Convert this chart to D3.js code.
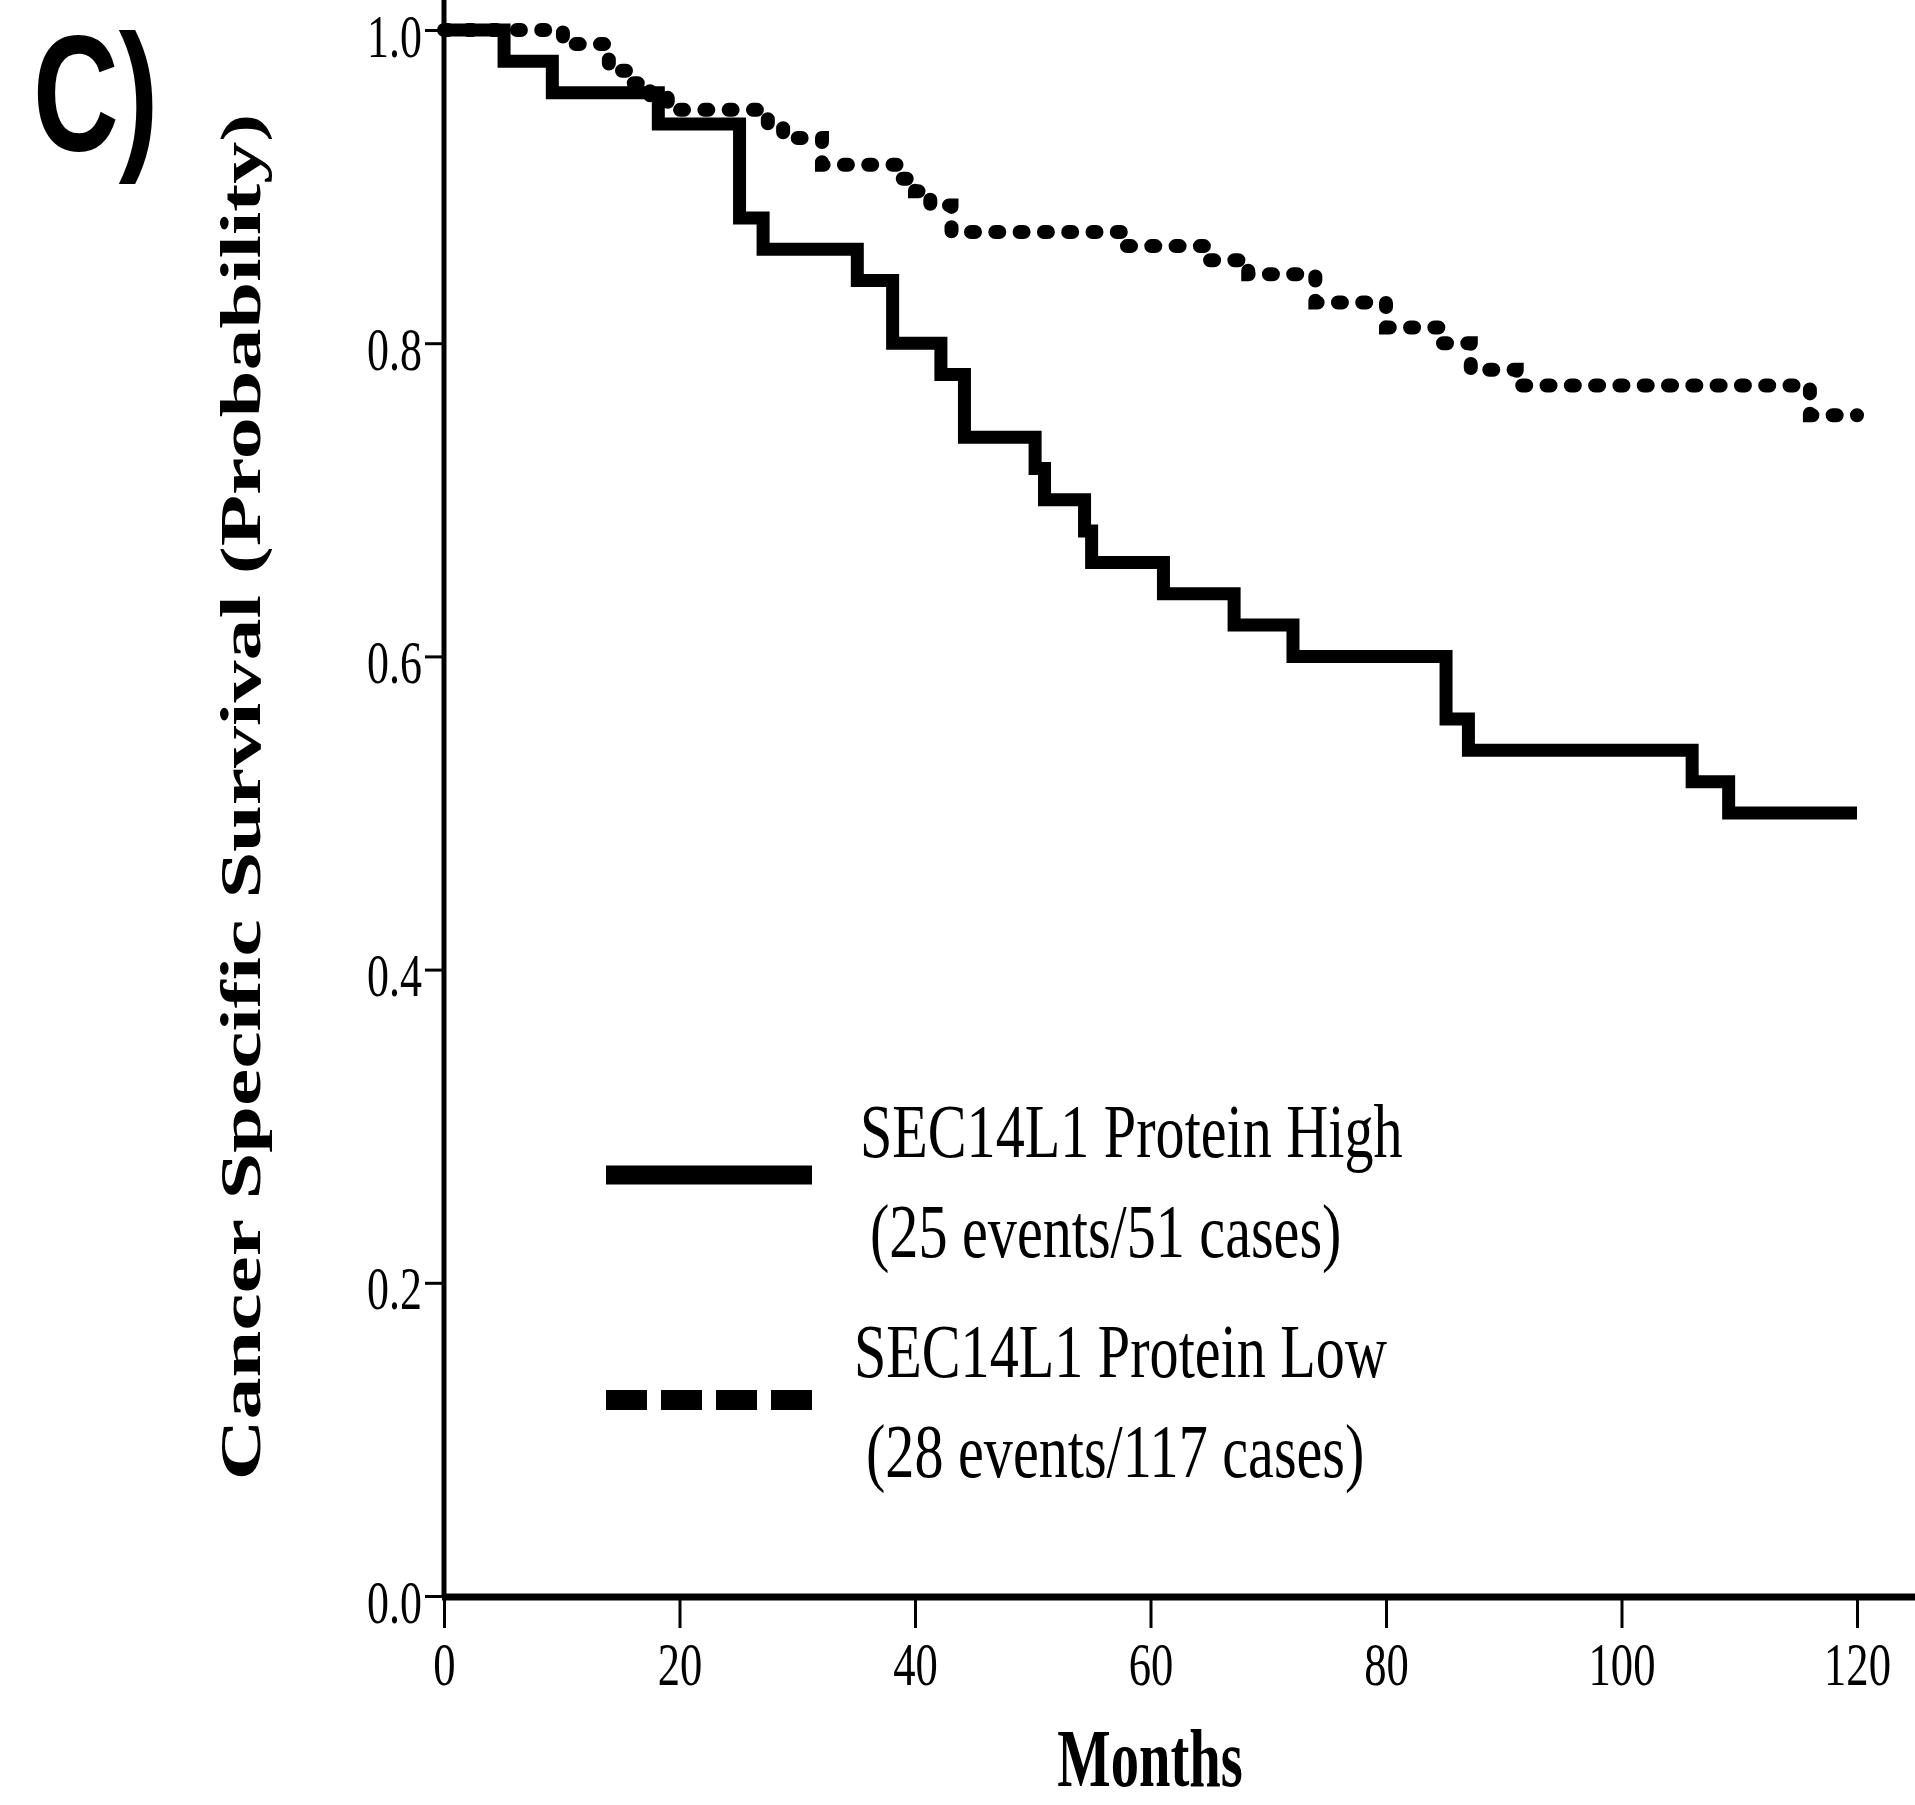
<!DOCTYPE html>
<html>
<head>
<meta charset="utf-8">
<script src="https://cdn.jsdelivr.net/npm/d3@7"></script>
<style>
  body { margin: 0; background: #fff; }
  svg { display: block; }
  text { font-family: "Liberation Serif", "Times New Roman", serif; fill: #000; }
</style>
</head>
<body>
<svg id="chart" width="1915" height="1805"></svg>
<script>
// survival curves (months, probability)
const highMonths = [0, 5.1, 9.2, 18.2, 25.1, 27.1, 35.1, 38.1, 42.2, 44.2, 50.2, 51.0, 54.4, 55.0, 61.1, 67.1, 72.1, 85.1, 87.0, 106.0, 109.1, 120];
const highSurv   = [1.0, 0.98, 0.96, 0.94, 0.88, 0.86, 0.84, 0.80, 0.78, 0.74, 0.72, 0.70, 0.68, 0.66, 0.64, 0.62, 0.60, 0.56, 0.54, 0.52, 0.50, 0.50];

const lowMonths = [0, 10.1, 14.0, 16.0, 17.5, 19.0, 27.5, 28.8, 32.1, 38.5, 40.0, 41.3, 43.1, 58.0, 65.0, 68.3, 74.0, 80.0, 84.5, 87.2, 91.1, 116.0, 120];
const lowSurv   = [1.0, 0.991, 0.974, 0.966, 0.957, 0.949, 0.940, 0.931, 0.914, 0.905, 0.897, 0.888, 0.871, 0.862, 0.853, 0.844, 0.826, 0.810, 0.800, 0.783, 0.773, 0.754, 0.754];

const xTicks = [0, 20, 40, 60, 80, 100, 120];
const yTicks = [0, 0.2, 0.4, 0.6, 0.8, 1.0];

const legendNames = ['SEC14L1 Protein High', 'SEC14L1 Protein Low'];
const legendCounts = ['(25 events/51 cases)', '(28 events/117 cases)'];

const svg = d3.select('#chart');

const x = d3.scaleLinear().domain([0, 120]).range([444, 1857]);
const y = d3.scaleLinear().domain([0, 1]).range([1596, 30]);

// y axis
const yAxis = svg.append('g')
  .attr('transform', 'translate(' + x(0) + ',0)')
  .call(d3.axisLeft(y).tickValues(yTicks).tickFormat(d3.format('.1f')).tickSize(19));
yAxis.select('.domain').remove();
yAxis.selectAll('.tick line').attr('stroke', '#000').attr('stroke-width', 3);
yAxis.selectAll('.tick text')
  .attr('x', null).attr('dy', null)
  .attr('text-anchor', 'end')
  .attr('transform', 'translate(-22,26) scale(0.72,1)')
  .style('font-size', '61px');
svg.append('line')
  .attr('x1', x(0)).attr('x2', x(0))
  .attr('y1', 0).attr('y2', y(0))
  .attr('stroke', '#000').attr('stroke-width', 5);

// x axis
const xAxis = svg.append('g')
  .attr('transform', 'translate(0,' + (y(0) + 1) + ')')
  .call(d3.axisBottom(x).tickValues(xTicks).tickSize(31));
xAxis.select('.domain').remove();
xAxis.selectAll('.tick line').attr('stroke', '#000').attr('stroke-width', 3);
xAxis.selectAll('.tick text')
  .attr('y', null).attr('dy', null)
  .attr('text-anchor', 'middle')
  .attr('transform', 'translate(0,88) scale(0.72,1)')
  .style('font-size', '62px');
svg.append('line')
  .attr('x1', x(0) - 2).attr('x2', 1915)
  .attr('y1', y(0) + 1).attr('y2', y(0) + 1)
  .attr('stroke', '#000').attr('stroke-width', 7);

// curves
const line = d3.line()
  .x(d => x(d[0]))
  .y(d => y(d[1]))
  .curve(d3.curveStepAfter);

svg.append('path')
  .datum(lowMonths.map((m, i) => [m, lowSurv[i]]))
  .attr('d', line)
  .attr('fill', 'none')
  .attr('stroke', '#000')
  .attr('stroke-width', 14)
  .attr('stroke-linecap', 'round')
  .attr('stroke-dasharray', '4,20.3');

svg.append('path')
  .datum(highMonths.map((m, i) => [m, highSurv[i]]))
  .attr('d', line)
  .attr('fill', 'none')
  .attr('stroke', '#000')
  .attr('stroke-width', 13)
  .attr('stroke-linejoin', 'miter');

// legend
const legend = svg.append('g');
legend.append('line')
  .attr('x1', 606).attr('x2', 812).attr('y1', 1175).attr('y2', 1175)
  .attr('stroke', '#000').attr('stroke-width', 19);
legend.append('line')
  .attr('x1', 606).attr('x2', 812).attr('y1', 1400).attr('y2', 1400)
  .attr('stroke', '#000').attr('stroke-width', 20)
  .attr('stroke-dasharray', '41,14');

const legendRows = [
  { t: legendNames[0], x: 860, y: 1157 },
  { t: legendCounts[0], x: 870, y: 1257 },
  { t: legendNames[1], x: 854, y: 1377 },
  { t: legendCounts[1], x: 866, y: 1477 }
];
legend.selectAll('text.leg')
  .data(legendRows)
  .enter().append('text')
  .attr('class', 'leg')
  .attr('transform', d => 'translate(' + d.x + ',' + d.y + ') scale(0.765,1)')
  .style('font-size', '76px')
  .text(d => d.t);

// axis titles
svg.append('text')
  .attr('transform', 'translate(1150,1786) scale(0.69,1)')
  .attr('text-anchor', 'middle')
  .style('font-size', '82px')
  .style('font-weight', 'bold')
  .text('Months');

svg.append('text')
  .attr('transform', 'translate(260,797) scale(0.69,1) rotate(-90)')
  .attr('text-anchor', 'middle')
  .style('font-size', '84px')
  .style('font-weight', 'bold')
  .text('Cancer Specific Survival (Probability)');

// panel letter
svg.append('text')
  .attr('transform', 'translate(33,150) scale(0.72,1)')
  .style('font-family', '"Liberation Sans", Arial, sans-serif')
  .style('font-size', '165px')
  .style('font-weight', 'bold')
  .text('C)');
</script>
</body>
</html>
